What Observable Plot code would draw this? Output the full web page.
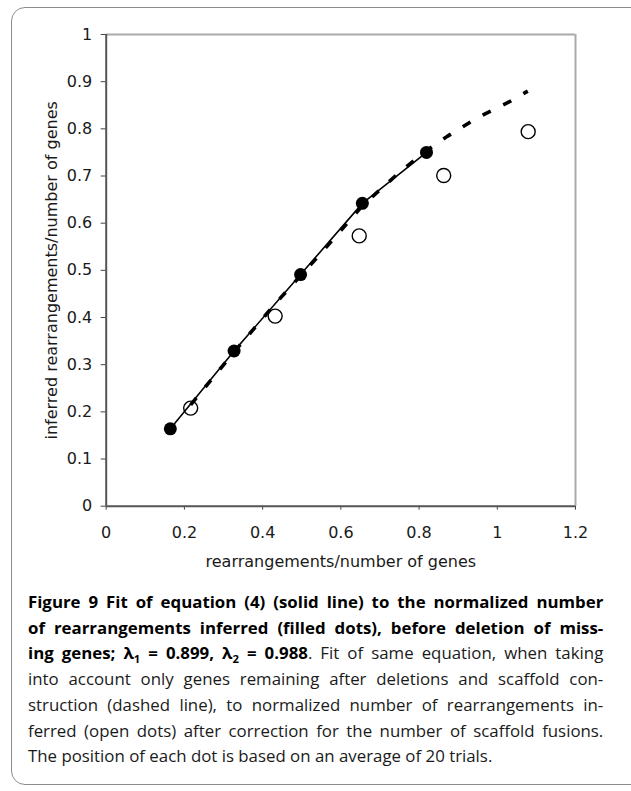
<!DOCTYPE html>
<html><head><meta charset="utf-8">
<script src="https://cdn.jsdelivr.net/npm/d3@7"></script>
<script src="https://cdn.jsdelivr.net/npm/@observablehq/plot@0.6"></script>
<style>
html,body{margin:0;padding:0;background:#fff;width:631px;height:791px;overflow:hidden}
#chart{position:absolute;left:0;top:0}
#frame{position:absolute;left:11px;top:7px;width:660px;height:778px;border:1px solid #8c8c8c;border-radius:14px;box-sizing:border-box;pointer-events:none}
#caption{position:absolute;left:28px;top:589px;width:564px;transform:scaleX(1.02);transform-origin:0 0;font-family:"Open Sans";font-size:16.5px;line-height:25.7px;color:#1a1a1a}
.ln{white-space:nowrap;text-align:justify;text-align-last:justify}
.ln.last{text-align-last:left;text-align:left}
b{font-weight:700;color:#000}
sub{font-size:11px;line-height:0}
</style></head><body>
<div id="chart"></div>
<div id="caption">
<div class="ln"><b>Figure 9 Fit of equation (4) (solid line) to the normalized number</b></div>
<div class="ln"><b>of rearrangements inferred (filled dots), before deletion of miss-</b></div>
<div class="ln"><b>ing genes; λ<sub>1</sub> = 0.899, λ<sub>2</sub> = 0.988</b>. Fit of same equation, when taking</div>
<div class="ln">into account only genes remaining after deletions and scaffold con-</div>
<div class="ln">struction (dashed line), to normalized number of rearrangements in-</div>
<div class="ln">ferred (open dots) after correction for the number of scaffold fusions.</div>
<div class="ln last">The position of each dot is based on an average of 20 trials.</div>
</div>
<div id="frame"></div>
<script>
const xTicks = [0, 0.2, 0.4, 0.6, 0.8, 1, 1.2];
const xTickLabels = ["0", "0.2", "0.4", "0.6", "0.8", "1", "1.2"];
const yTicks = [0, 0.1, 0.2, 0.3, 0.4, 0.5, 0.6, 0.7, 0.8, 0.9, 1];
const yTickLabels = ["0", "0.1", "0.2", "0.3", "0.4", "0.5", "0.6", "0.7", "0.8", "0.9", "1"];
const xTitle = "rearrangements/number of genes";
const yTitle = "inferred rearrangements/number of genes";

const filledX = [0.164, 0.327, 0.497, 0.655, 0.819];
const filledY = [0.164, 0.329, 0.491, 0.642, 0.750];
const openX = [0.216, 0.432, 0.647, 0.863, 1.079];
const openY = [0.208, 0.403, 0.573, 0.701, 0.794];
const solidX = [0.164, 0.327, 0.497, 0.655, 0.819];
const solidY = [0.164, 0.329, 0.491, 0.642, 0.750];
const dashedX = [0.216, 0.327, 0.432, 0.55, 0.655, 0.75, 0.819, 0.872, 0.95, 1.03, 1.078];
const dashedY = [0.215, 0.327, 0.429, 0.537, 0.637, 0.708, 0.754, 0.784, 0.824, 0.857, 0.880];

const filled = filledX.map((x, i) => ({x, y: filledY[i]}));
const open = openX.map((x, i) => ({x, y: openY[i]}));
const solid = solidX.map((x, i) => ({x, y: solidY[i]}));
const dashed = dashedX.map((x, i) => ({x, y: dashedY[i]}));

const plot = Plot.plot({
  width: 631,
  height: 580,
  marginLeft: 105.7,
  marginRight: 56,
  marginTop: 34,
  marginBottom: 74.3,
  style: {background: "transparent", fontFamily: "DejaVu Sans", fontSize: "16px", color: "#1a1a1a", overflow: "visible"},
  x: {domain: [0, 1.2]},
  y: {domain: [0, 1]},
  marks: [
    Plot.ruleY([1], {stroke: "#aaaaaa", strokeWidth: 2}),
    Plot.ruleX([1.2], {stroke: "#aaaaaa", strokeWidth: 2}),
    Plot.axisX({ticks: xTicks, tickFormat: (d, i) => xTickLabels[i], tickSize: 4, tickPadding: 16, stroke: "#444",
      label: xTitle, labelAnchor: "center", labelOffset: 61, labelArrow: "none"}),
    Plot.axisY({ticks: yTicks, tickFormat: (d, i) => yTickLabels[i], tickSize: 5, tickPadding: 9, stroke: "#444", label: null}),
    Plot.text([yTitle], {frameAnchor: "left", dx: -54, rotate: -90, textAnchor: "middle", lineAnchor: "middle", text: d => d, fill: "#1a1a1a"}),
    Plot.ruleX([0], {stroke: "#555", strokeWidth: 2}),
    Plot.ruleY([0], {stroke: "#555", strokeWidth: 2}),
    Plot.line(solid, {x: "x", y: "y", stroke: "#000", strokeWidth: 1.6}),
    Plot.line(dashed, {x: "x", y: "y", stroke: "#000", strokeWidth: 3.6, strokeDasharray: "9,14", strokeLinecap: "butt"}),
    Plot.dot(open, {x: "x", y: "y", r: 7, fill: "none", stroke: "#000", strokeWidth: 1.4}),
    Plot.dot(filled, {x: "x", y: "y", r: 6.5, fill: "#000", stroke: "none"})
  ]
});
document.getElementById("chart").appendChild(plot);
</script>
</body></html>
